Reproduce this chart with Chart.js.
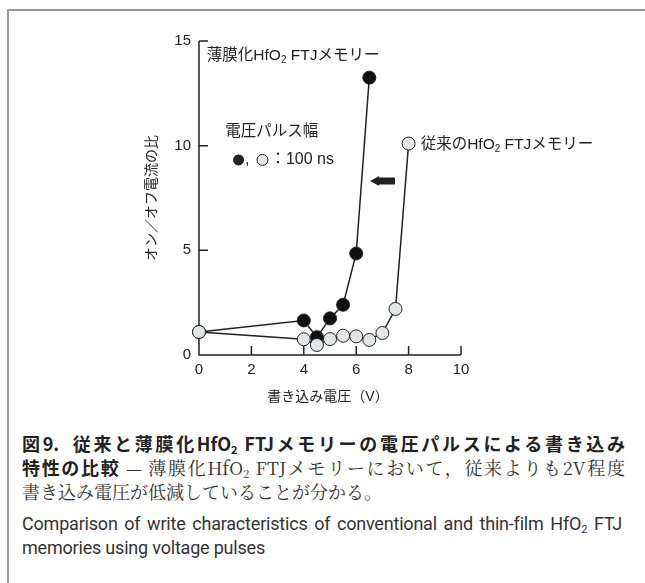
<!DOCTYPE html>
<html>
<head>
<meta charset="utf-8">
<script src="https://cdn.jsdelivr.net/npm/chart.js@4.4.1/dist/chart.umd.min.js"></script>
<style>
    body { margin: 0; background: #fff; width: 645px; height: 583px; position: relative; overflow: hidden; }
    #frameTop { position: absolute; left: 7px; top: 9px; width: 638px; height: 2px; background: #999; }
    #frameLeft { position: absolute; left: 7px; top: 9px; width: 2px; height: 574px; background: #999; }
    #chartBox { position: absolute; left: 0; top: 0; }
    .cap { position: absolute; left: 22px; width: 603px; line-height: 24px; white-space: nowrap; color: #222; }
    .jp { font-family: 'Noto Sans CJK JP', sans-serif; font-size: 18px; }
    .jp b { font-weight: 700; }
    .mincho { font-family: 'Noto Serif CJK JP', 'Noto Sans CJK JP', serif; font-weight: 400; color: #333; }
    .justify { text-align: justify; text-align-last: justify; }
    .en { font-family: Roboto, 'Liberation Sans', sans-serif; font-size: 18px; letter-spacing: -0.2px; color: #333; }
    sub { font-size: 0.62em; vertical-align: -0.25em; line-height: 0; }
</style>
</head>
<body>
<div id="frameTop"></div>
<div id="frameLeft"></div>
<div id="chartBox"><canvas id="writeChart" width="645" height="420"></canvas></div>

<div class="cap jp justify" style="top:431px;"><b>図9.&nbsp;&nbsp;従来と薄膜化HfO<sub>2</sub> FTJメモリーの電圧パルスによる書き込み</b></div>
<div class="cap jp justify" style="top:455px;"><b>特性の比較</b> <span class="mincho">— 薄膜化HfO<sub>2</sub> FTJメモリーにおいて，従来よりも2V程度</span></div>
<div class="cap jp" style="top:479px;"><span class="mincho">書き込み電圧が低減していることが分かる。</span></div>
<div class="cap en justify" style="top:512px; width:600px;">Comparison of write characteristics of conventional and thin-film HfO<sub>2</sub> FTJ</div>
<div class="cap en" style="top:536px;">memories using voltage pulses</div>

<script>
// write voltage (V) vs ON/OFF current ratio
const voltageConventional = [0, 4, 4.5, 5, 5.5, 6, 6.5, 7, 7.5, 8];
const ratioConventional = [1.1, 0.75, 0.48, 0.76, 0.92, 0.89, 0.72, 1.05, 2.2, 10.1];
const voltageThinFilm = [0, 4, 4.5, 5, 5.5, 6, 6.5];
const ratioThinFilm = [1.1, 1.65, 0.85, 1.75, 2.4, 4.85, 13.25];

const xTicks = [0, 2, 4, 6, 8, 10];
const yTicks = [0, 5, 10, 15];

const LATIN = "'Liberation Sans', 'Noto Sans CJK JP', sans-serif";
const INK = '#222';

function toPoints(xs, ys) {
    return xs.map((v, i) => ({ x: v, y: ys[i] }));
}

// draws text pieces, second item true = subscript
function drawRich(ctx, parts, x, y, size) {
    let cx = x;
    parts.forEach(([text, sub]) => {
        const fs = sub ? Math.round(size * 0.62) : size;
        ctx.font = `${fs}px ${LATIN}`;
        ctx.fillText(text, cx, sub ? y + size * 0.25 : y);
        cx += ctx.measureText(text).width;
    });
    return cx;
}

const figurePlugin = {
    id: 'figure',
    beforeDatasetsDraw(chart) {
        const { ctx, scales: { x, y } } = chart;
        const x0 = x.getPixelForValue(0);
        const y0 = y.getPixelForValue(0);
        ctx.save();
        ctx.strokeStyle = INK;
        ctx.lineWidth = 1.5;
        ctx.beginPath();
        ctx.moveTo(x0, y.getPixelForValue(yTicks[yTicks.length - 1]));
        ctx.lineTo(x0, y0);
        ctx.lineTo(x.getPixelForValue(xTicks[xTicks.length - 1]), y0);
        yTicks.slice(1).forEach(v => {
            const py = y.getPixelForValue(v);
            ctx.moveTo(x0, py);
            ctx.lineTo(x0 + 9, py);
        });
        xTicks.slice(1).forEach(v => {
            const px = x.getPixelForValue(v);
            ctx.moveTo(px, y0);
            ctx.lineTo(px, y0 - 9);
        });
        ctx.stroke();
        ctx.restore();
    },
    afterDraw(chart) {
        const { ctx, scales: { x, y } } = chart;
        ctx.save();
        ctx.fillStyle = INK;
        ctx.textBaseline = 'middle';

        // axis titles
        ctx.font = `14px ${LATIN}`;
        ctx.textAlign = 'center';
        ctx.fillText('書き込み電圧（V）', x.getPixelForValue(5) - 2, 397);
        ctx.save();
        ctx.translate(152, y.getPixelForValue(7.5));
        ctx.rotate(-Math.PI / 2);
        ctx.fillText('オン／オフ電流の比', 0, 0);
        ctx.restore();

        // series labels
        ctx.textAlign = 'left';
        drawRich(ctx, [['薄膜化HfO'], ['2', true], [' FTJメモリー']],
            x.getPixelForValue(0.3), y.getPixelForValue(14.28), 15.5);
        drawRich(ctx, [['従来のHfO'], ['2', true], [' FTJメモリー']],
            x.getPixelForValue(8.46), y.getPixelForValue(10.03), 15.5);

        // pulse width note
        ctx.font = `15.5px ${LATIN}`;
        ctx.fillText('電圧パルス幅', x.getPixelForValue(1.0), y.getPixelForValue(10.68));
        ctx.font = `16px ${LATIN}`;
        const ny = y.getPixelForValue(9.32);
        let nx = x.getPixelForValue(1.3);
        ctx.beginPath();
        ctx.arc(nx + 5.5, ny, 5.5, 0, Math.PI * 2);
        ctx.fill();
        nx += 12;
        ctx.fillText(',', nx, ny);
        nx += ctx.measureText(', ').width + 3;
        ctx.beginPath();
        ctx.arc(nx + 5.5, ny, 5.5, 0, Math.PI * 2);
        ctx.fillStyle = '#e4e5e7';
        ctx.fill();
        ctx.strokeStyle = INK;
        ctx.lineWidth = 1;
        ctx.stroke();
        ctx.fillStyle = INK;
        nx += 13;
        ctx.fillText('：100 ns', nx, ny);

        // shift arrow
        const ax = x.getPixelForValue(6.53);
        const ay = y.getPixelForValue(8.31);
        const tail = x.getPixelForValue(7.48);
        ctx.beginPath();
        ctx.moveTo(ax, ay);
        ctx.lineTo(ax + 9, ay - 5);
        ctx.lineTo(ax + 9, ay - 3.5);
        ctx.lineTo(tail, ay - 3.5);
        ctx.lineTo(tail, ay + 3.5);
        ctx.lineTo(ax + 9, ay + 3.5);
        ctx.lineTo(ax + 9, ay + 5);
        ctx.closePath();
        ctx.fill();
        ctx.restore();
    }
};

const ctx = document.getElementById('writeChart').getContext('2d');
new Chart(ctx, {
    type: 'scatter',
    data: {
        datasets: [
            {
                label: '従来のHfO2 FTJメモリー',
                data: toPoints(voltageConventional, ratioConventional),
                showLine: true,
                borderColor: INK,
                borderWidth: 1.5,
                pointRadius: 6.5,
                pointBackgroundColor: '#e4e5e7',
                pointBorderColor: INK,
                pointBorderWidth: 1,
                clip: false
            },
            {
                label: '薄膜化HfO2 FTJメモリー',
                data: toPoints(voltageThinFilm, ratioThinFilm),
                showLine: true,
                borderColor: INK,
                borderWidth: 1.5,
                pointRadius: 6.5,
                pointBackgroundColor: '#111',
                pointBorderColor: INK,
                pointBorderWidth: 1,
                clip: false
            }
        ]
    },
    options: {
        responsive: false,
        animation: false,
        layout: { padding: { left: 0, top: 41, right: 184, bottom: 0 } },
        plugins: { legend: { display: false }, tooltip: { enabled: false } },
        scales: {
            x: {
                type: 'linear',
                min: 0,
                max: 10,
                afterBuildTicks: scale => { scale.ticks = xTicks.map(v => ({ value: v })); },
                afterFit: scale => { scale.height = 65; },
                grid: { display: false, drawTicks: false },
                border: { display: false },
                ticks: { padding: 6, color: INK, font: { family: LATIN, size: 15 } }
            },
            y: {
                type: 'linear',
                min: 0,
                max: 15,
                afterBuildTicks: scale => { scale.ticks = yTicks.map(v => ({ value: v })); },
                afterFit: scale => { scale.width = 199; },
                grid: { display: false, drawTicks: false },
                border: { display: false },
                ticks: { padding: 8, color: INK, font: { family: LATIN, size: 15 } }
            }
        }
    },
    plugins: [figurePlugin]
});
</script>
</body>
</html>
